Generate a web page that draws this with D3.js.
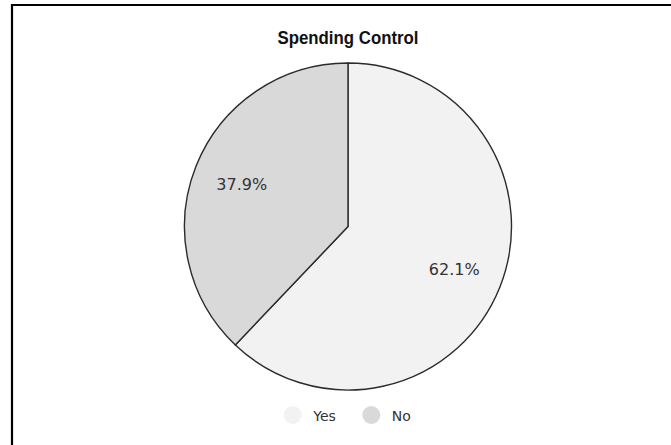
<!DOCTYPE html>
<html>
<head>
<meta charset="utf-8">
<script src="https://cdn.jsdelivr.net/npm/d3@7"></script>
<style>
  html, body { margin: 0; padding: 0; background: #ffffff; }
  svg { display: block; }
</style>
</head>
<body>
<div id="chart"></div>
<script>
// Survey answers and their shares (percent)
const categories = ["Yes", "No"];
const shares = [62.1, 37.9];
const sliceColors = ["#f2f2f2", "#d9d9d9"];
const chartTitle = "Spending Control";

const width = 671, height = 445;
const cx = 348, cy = 226.5, radius = 163.5;

const svg = d3.select("#chart").append("svg")
  .attr("width", width)
  .attr("height", height);

// frame line along the top and left edges
svg.append("path")
  .attr("d", "M12,445 L12,5 L671,5")
  .attr("fill", "none")
  .attr("stroke", "#000")
  .attr("stroke-width", 2.2);

// title
svg.append("text")
  .attr("x", cx)
  .attr("y", 44)
  .attr("text-anchor", "middle")
  .attr("font-family", "'Liberation Sans', Arial, sans-serif")
  .attr("font-weight", "bold")
  .attr("font-size", 18)
  .attr("textLength", 141)
  .attr("lengthAdjust", "spacingAndGlyphs")
  .attr("fill", "#111")
  .text(chartTitle);

const data = categories.map((c, i) => ({ label: c, value: shares[i], color: sliceColors[i] }));

const pie = d3.pie().value(d => d.value).sort(null);
const arc = d3.arc().innerRadius(0).outerRadius(radius);
const labelArc = d3.arc().innerRadius(radius * 0.7).outerRadius(radius * 0.7);

const g = svg.append("g").attr("transform", `translate(${cx},${cy})`);
const arcs = pie(data);

g.selectAll("path.slice")
  .data(arcs)
  .enter().append("path")
  .attr("class", "slice")
  .attr("d", arc)
  .attr("fill", d => d.data.color)
  .attr("stroke", "#2b2b2b")
  .attr("stroke-width", 1.4)
  .attr("stroke-linejoin", "round");

g.selectAll("text.pct")
  .data(arcs)
  .enter().append("text")
  .attr("class", "pct")
  .attr("transform", d => `translate(${labelArc.centroid(d)})`)
  .attr("text-anchor", "middle")
  .attr("dy", "0.36em")
  .attr("font-family", "'DejaVu Sans', sans-serif")
  .attr("font-size", 16)
  .attr("fill", "#333")
  .text(d => d.data.value.toFixed(1) + "%");

// legend
const legendX = [292.7, 371.3];
const legend = svg.append("g");
const items = legend.selectAll("g.item")
  .data(data)
  .enter().append("g")
  .attr("class", "item")
  .attr("transform", (d, i) => `translate(${legendX[i]},415)`);

items.append("circle")
  .attr("r", 9)
  .attr("fill", d => d.color);

items.append("text")
  .attr("x", 20.5)
  .attr("y", 5.5)
  .attr("font-family", "'DejaVu Sans', sans-serif")
  .attr("font-size", 14)
  .attr("fill", "#333")
  .text(d => d.label);
</script>
</body>
</html>
